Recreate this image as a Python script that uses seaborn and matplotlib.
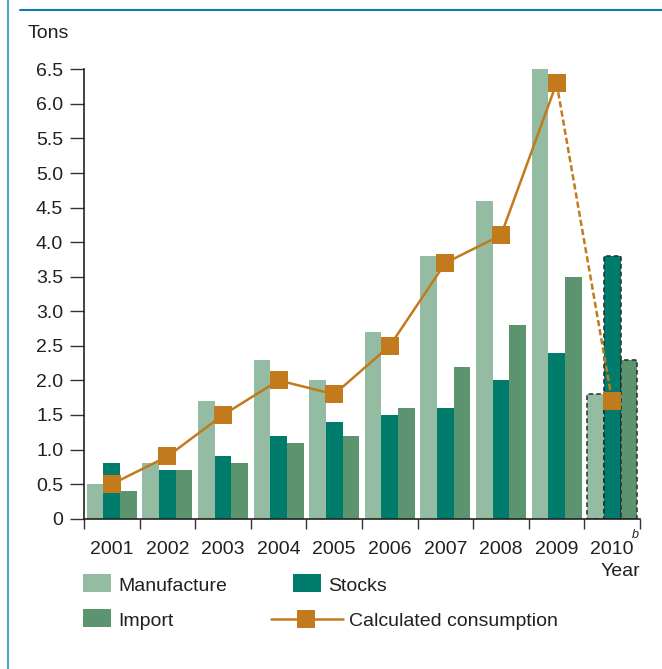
import matplotlib
matplotlib.use('Agg')
import matplotlib.pyplot as plt
import matplotlib.patches as mpatches
from matplotlib.lines import Line2D
import numpy as np
import pandas as pd
import seaborn as sns

# Dados (toneladas por ano)
anos = ['2001', '2002', '2003', '2004', '2005', '2006', '2007', '2008', '2009', '2010']
manufacture = [0.5, 0.8, 1.7, 2.3, 2.0, 2.7, 3.8, 4.6, 6.5, 1.8]
stocks = [0.8, 0.7, 0.9, 1.2, 1.4, 1.5, 1.6, 2.0, 2.4, 3.8]
imports = [0.4, 0.7, 0.8, 1.1, 1.2, 1.6, 2.2, 2.8, 3.5, 2.3]
consumo = [0.5, 0.9, 1.5, 2.0, 1.8, 2.5, 3.7, 4.1, 6.3, 1.7]
series = ['Manufacture', 'Stocks', 'Import']
yticks = [0, 0.5, 1.0, 1.5, 2.0, 2.5, 3.0, 3.5, 4.0, 4.5, 5.0, 5.5, 6.0, 6.5]
ytick_labels = ['0', '0.5', '1.0', '1.5', '2.0', '2.5', '3.0', '3.5', '4.0',
                '4.5', '5.0', '5.5', '6.0', '6.5']

cores = ['#93BCA2', '#007C6D', '#5C9470']
laranja = '#C27A1D'
texto = '#231F20'
fs = 14

sns.set_style('white')
plt.rcParams['font.family'] = ['Liberation Sans', 'DejaVu Sans']

df = pd.DataFrame({
    'Ano': anos * 3,
    'Serie': [s for s in series for _ in anos],
    'Toneladas': manufacture + stocks + imports,
})

W, H = 662, 669
fig = plt.figure(figsize=(W / 100, H / 100), dpi=100)

def fx(px):
    return px / W

def fy(py):
    return 1 - py / H

ax = fig.add_axes([fx(84), fy(518.7), fx(640) - fx(84), fy(69.3) - fy(518.7)])

sns.barplot(data=df, x='Ano', y='Toneladas', hue='Serie', hue_order=series,
            order=anos, palette=cores, width=0.9, gap=0, saturation=1,
            legend=False, ax=ax, zorder=2, linewidth=0)

# barras de 2010 (estimativa) com contorno tracejado
for p in ax.patches:
    cx = p.get_x() + p.get_width() / 2
    if abs(cx - 9) < 0.5:
        p.set_edgecolor('#2A2A2A')
        p.set_linestyle((0, (3, 2)))
        p.set_linewidth(1.1)
    else:
        p.set_linewidth(0)

# consumo calculado
x = np.arange(len(anos))
ax.plot(x[:9], consumo[:9], color=laranja, lw=1.8, zorder=4)
ax.plot(x[8:], consumo[8:], color=laranja, lw=1.8, ls=(0, (2.5, 1.2)), zorder=4)
ax.plot(x, consumo, ls='none', marker='s', ms=12.3, mew=0, color=laranja, zorder=5)

ax.set_xlim(-0.5, 9.5)
ax.set_ylim(0, 6.5)
ax.set_yticks(yticks)
ax.set_yticklabels(ytick_labels)
ax.set_xticks(x)
ax.set_xticklabels(anos)
ax.set_xticks(np.arange(-0.5, 10, 1), minor=True)
ax.set_xlabel('')
ax.set_ylabel('')

ax.tick_params(axis='y', which='major', direction='out', length=10, width=1,
               color='#333333', pad=5, labelsize=fs, labelcolor=texto, left=True)
ax.tick_params(axis='x', which='major', length=0, pad=16, labelsize=fs,
               labelcolor=texto)
ax.tick_params(axis='x', which='minor', direction='out', length=7.5, width=1,
               color='#333333', bottom=True)

for lado in ['top', 'right']:
    ax.spines[lado].set_visible(False)
for lado in ['left', 'bottom']:
    ax.spines[lado].set_color('#222222')
    ax.spines[lado].set_linewidth(1.2)

# textos
fig.text(fx(28), fy(33), 'Tons', fontsize=fs, color=texto, ha='left', va='center')
fig.text(fx(640), fy(571), 'Year', fontsize=fs, color=texto, ha='right', va='center')
fig.text(fx(632), fy(535), 'b', fontsize=9, style='italic', color=texto,
         ha='left', va='center')

# legenda
def caixa(x0, y0, cor, rotulo):
    fig.add_artist(mpatches.Rectangle((fx(x0), fy(y0 + 18)), fx(28), 18 / H,
                                      transform=fig.transFigure, color=cor, lw=0))
    fig.text(fx(x0 + 35), fy(y0 + 17), rotulo, fontsize=fs, color=texto,
             ha='left', va='baseline')

caixa(83, 574, cores[0], 'Manufacture')
caixa(293, 574, cores[1], 'Stocks')
caixa(83, 609, cores[2], 'Import')
fig.add_artist(Line2D([fx(271), fx(343)], [fy(619), fy(619)], color=laranja, lw=1.8,
                      transform=fig.transFigure))
fig.add_artist(Line2D([fx(306)], [fy(619)], marker='s', ms=12.3, mew=0, color=laranja,
                      transform=fig.transFigure))
fig.text(fx(349), fy(626), 'Calculated consumption', fontsize=fs, color=texto,
         ha='left', va='baseline')

# moldura azul
fig.add_artist(Line2D([fx(8)] * 2, [0, 1], color='#4BA6CF', lw=1.5,
                      transform=fig.transFigure))
fig.add_artist(Line2D([fx(20), 1], [fy(10)] * 2, color='#0A7DB5', lw=1.5,
                      transform=fig.transFigure))

fig.savefig('out.png', dpi=100)
